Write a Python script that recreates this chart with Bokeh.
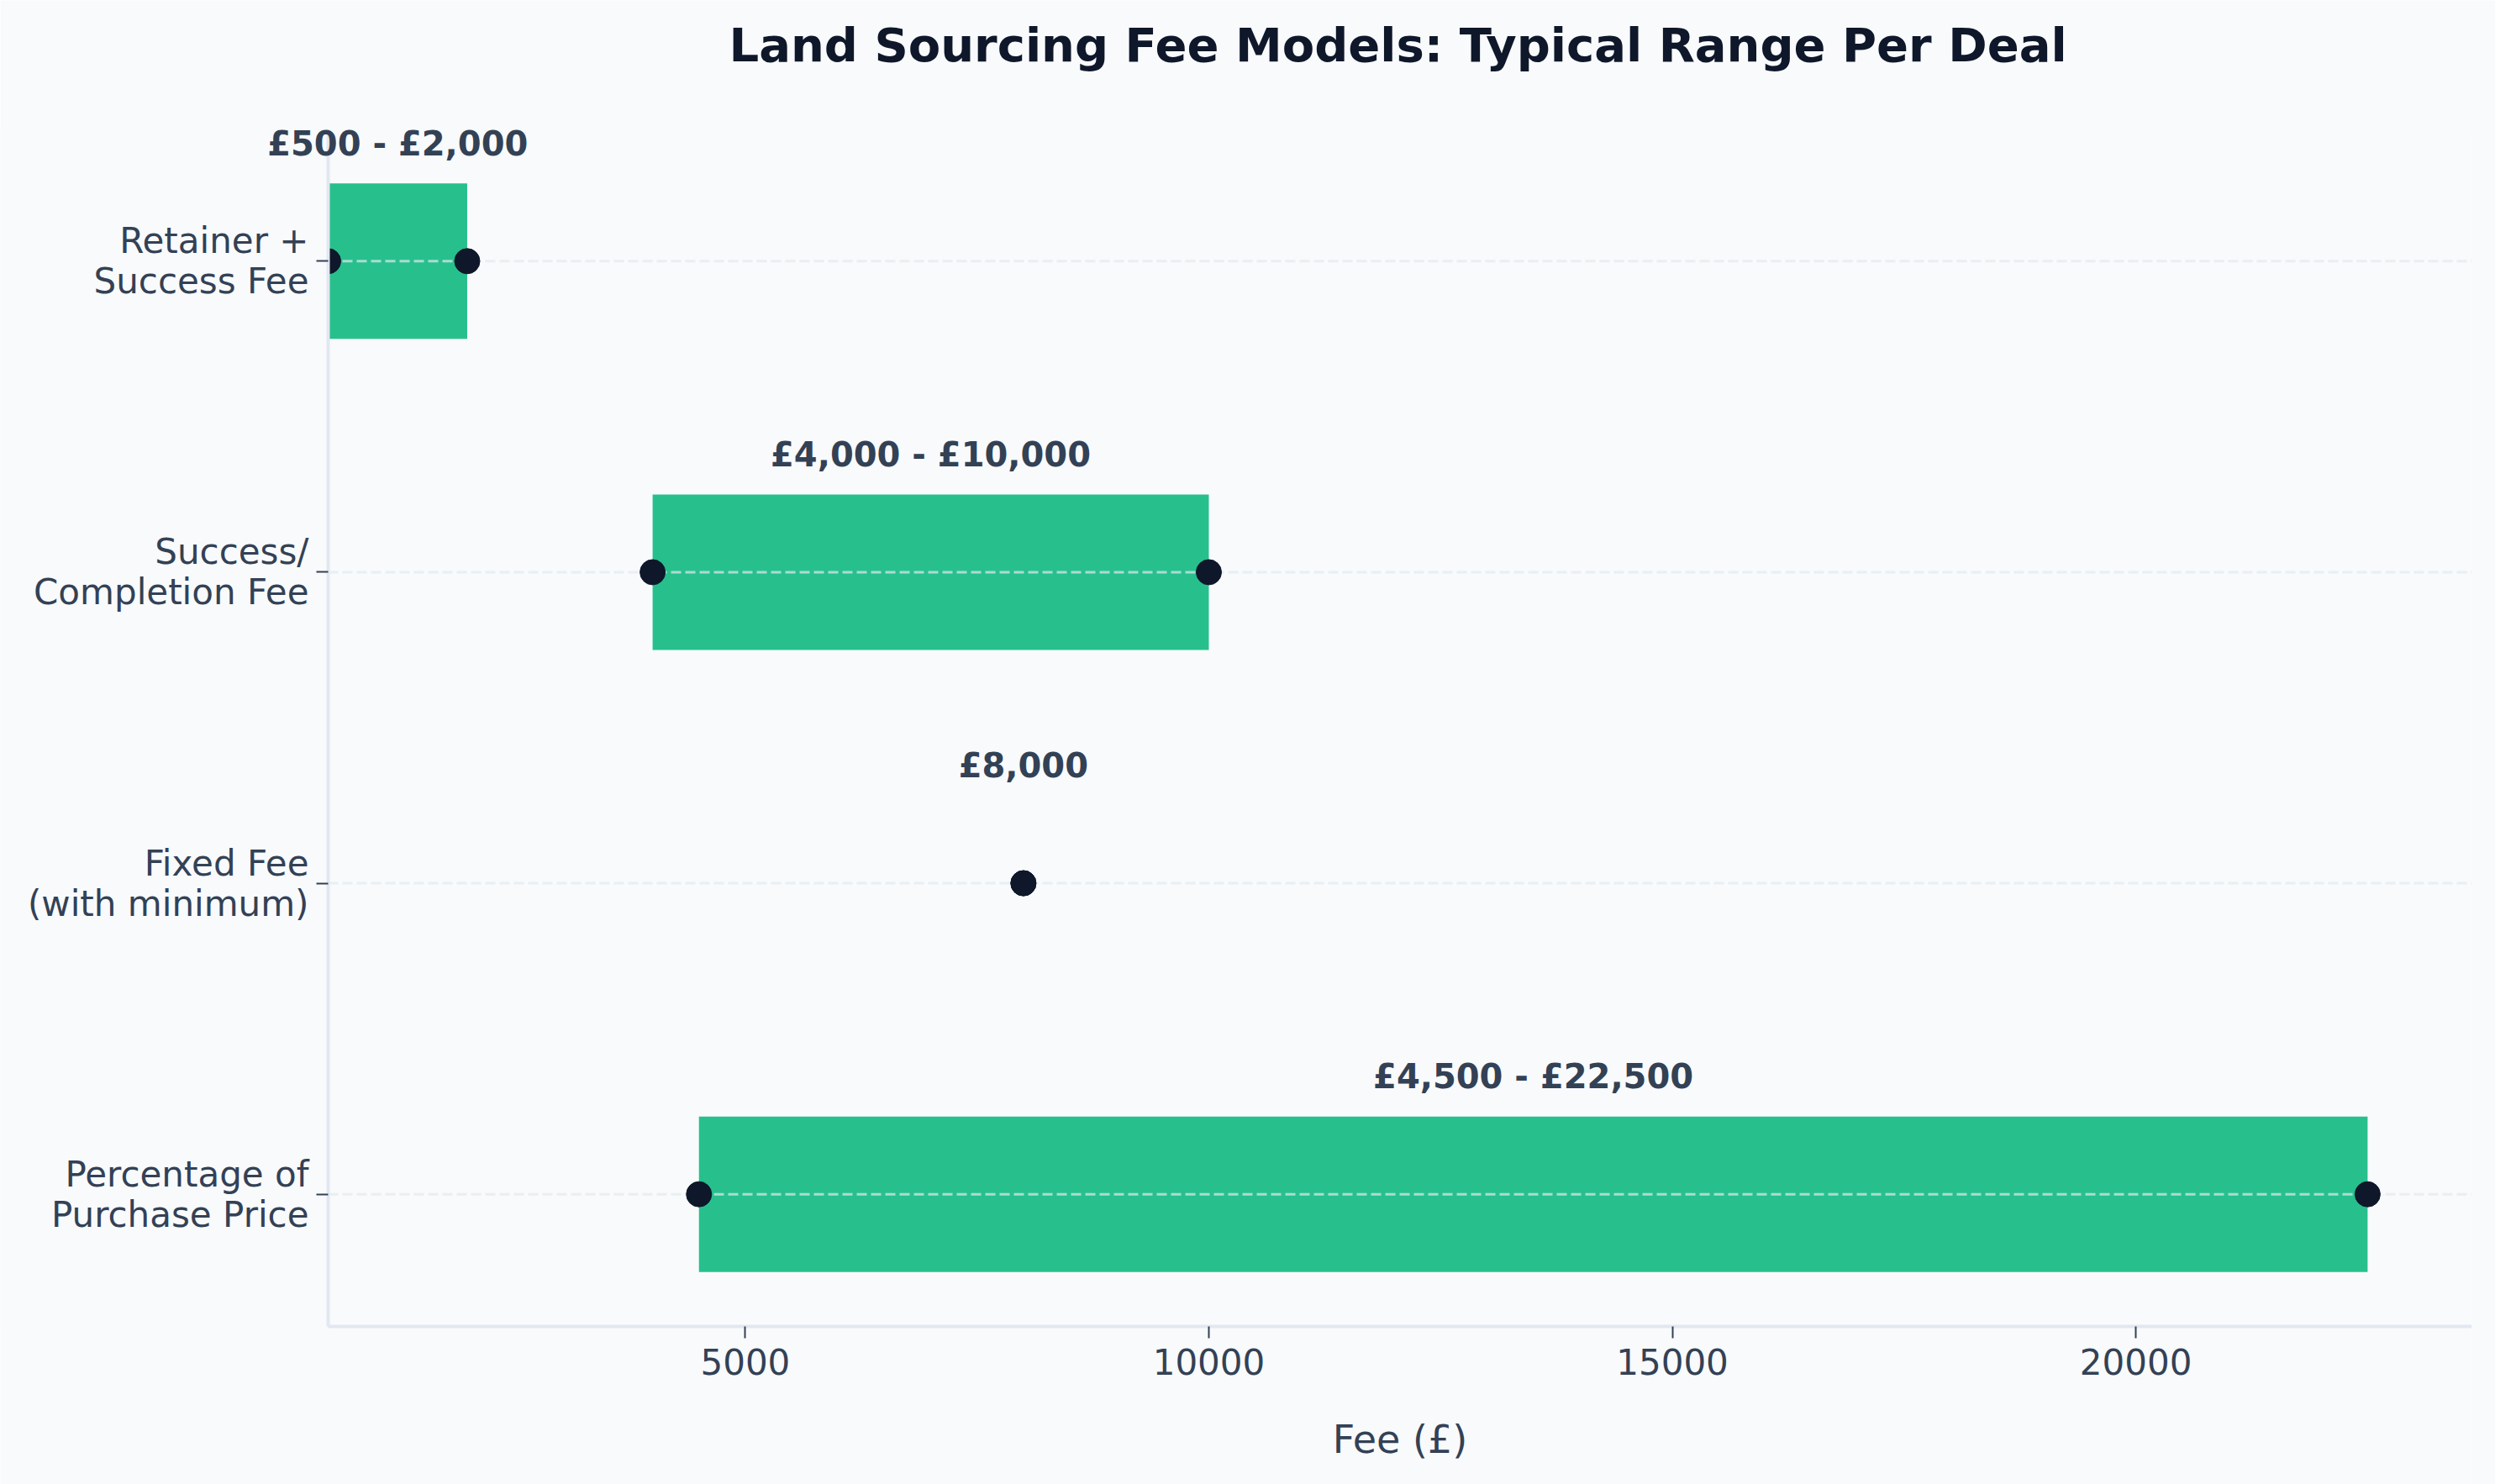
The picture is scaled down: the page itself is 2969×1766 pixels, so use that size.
from bokeh.plotting import figure
from bokeh.models import Range1d, FixedTicker, Label, Title
from bokeh.embed import file_html
from bokeh.resources import INLINE

# ---- data ----
categories = ["Retainer +\nSuccess Fee", "Success/\nCompletion Fee",
              "Fixed Fee\n(with minimum)", "Percentage of\nPurchase Price"]
fee_min = [500, 4000, 8000, 4500]
fee_max = [2000, 10000, 8000, 22500]
x_ticks = [5000, 10000, 15000, 20000]
title_text = "Land Sourcing Fee Models: Typical Range Per Deal"
x_label = "Fee (£)"

FONT = "DejaVu Sans"
TXT = "#334155"
DARK = "#0f172a"
BG = "#f8fafc"
GREEN = "#10b981"
LIGHT = "#e2e8f0"

W, H = 2969, 1766
SPINE_PX, RIGHT_PX = 390, 2941      # visible axes left edge / right edge (canvas px)
TOP_PX, AXIS_PX = 153, 1578         # visible axes top / x-axis line (canvas px)
XLABEL_PX = 1712                    # centre of the x-axis label (canvas px)

ys = list(range(len(categories)))
labels = [f"£{a:,} - £{b:,}" if a != b else f"£{a:,}" for a, b in zip(fee_min, fee_max)]
mids = [(a + b) / 2 for a, b in zip(fee_min, fee_max)]
label_y = [y - 0.378 for y in ys]

x_lo, x_hi = 500, 22500 * 1.05
pad = 0.25 + 0.05 * (len(categories) - 1 + 0.5)
y_top, y_bot = -pad, len(categories) - 1 + pad

# the frame is extended to the left / bottom edge of the canvas so that no text is
# clipped; the axes are pinned at the original data limits
x_start = x_lo - SPINE_PX * (x_hi - x_lo) / (RIGHT_PX - SPINE_PX)
unit_px = (AXIS_PX - TOP_PX) / (y_bot - y_top)
y_end = y_bot + (H - AXIS_PX) / unit_px

p = figure(width=W, height=H, output_backend="svg", toolbar_location=None,
           x_range=Range1d(x_start, x_hi),
           y_range=Range1d(y_end, y_top),
           min_border_left=0, min_border_right=W - RIGHT_PX,
           min_border_top=TOP_PX, min_border_bottom=0)

p.background_fill_color = BG
p.border_fill_color = BG
p.outline_line_color = None
p.xgrid.visible = False
p.ygrid.visible = False

# spacer between frame and title
p.add_layout(Title(text=" ", text_font_size="1px", standoff=60), "above")

p.title.text = title_text
p.title.align = "left"
p.title.offset = 867
p.title.vertical_align = "bottom"
p.title.standoff = 10
p.title.text_font = FONT
p.title.text_font_size = "56px"
p.title.text_font_style = "bold"
p.title.text_color = DARK

# bars
p.hbar(y=ys, left=fee_min, right=fee_max, height=0.5,
       fill_color=GREEN, fill_alpha=0.9, line_color=None)

# dashed row lines (drawn over bars, under dots)
p.segment(x0=[x_lo] * len(ys), x1=[x_hi] * len(ys), y0=ys, y1=ys,
          line_color=LIGHT, line_alpha=0.7, line_width=3, line_dash="12 5")

# end-point dots
p.scatter(x=fee_min + fee_max, y=ys + ys, size=30,
          fill_color=DARK, line_color=DARK)

# mask the area left of the axes (clips the dot halves like the original)
p.quad(left=[x_start], right=[x_lo], bottom=[y_bot], top=[y_top],
       fill_color=BG, line_color=None)

for xm, yl, t in zip(mids, label_y, labels):
    p.add_layout(Label(x=xm, y=yl, text=t,
                       text_align="center", text_baseline="middle",
                       text_font=FONT, text_font_style="bold",
                       text_font_size="40px", text_color=TXT))

for ax in (p.xaxis[0], p.yaxis[0]):
    ax.axis_line_color = LIGHT
    ax.axis_line_width = 4
    ax.major_tick_line_color = TXT
    ax.major_tick_line_width = 2
    ax.major_tick_out = 14
    ax.major_tick_in = 0
    ax.minor_tick_line_color = None
    ax.major_label_text_font = FONT
    ax.major_label_text_font_size = "42px"
    ax.major_label_text_color = TXT
    ax.major_label_standoff = 12

p.xaxis.ticker = FixedTicker(ticks=x_ticks)
p.xaxis.fixed_location = y_bot
p.xaxis.bounds = (x_lo, x_hi)

# x-axis label, centred under the visible axes
p.add_layout(Label(x=(x_lo + x_hi) / 2, y=y_bot + (XLABEL_PX - AXIS_PX) / unit_px,
                   text=x_label, text_align="center", text_baseline="middle",
                   text_font=FONT, text_font_size="46px", text_color=TXT))

p.yaxis.fixed_location = x_lo
p.yaxis.bounds = (y_top, y_bot)
p.yaxis.ticker = FixedTicker(ticks=ys)
p.yaxis.major_label_overrides = {y: c for y, c in zip(ys, categories)}
p.yaxis.major_label_text_line_height = 0.98
p.yaxis.major_label_standoff = 9

open("out.html", "w").write(file_html(p, INLINE))
